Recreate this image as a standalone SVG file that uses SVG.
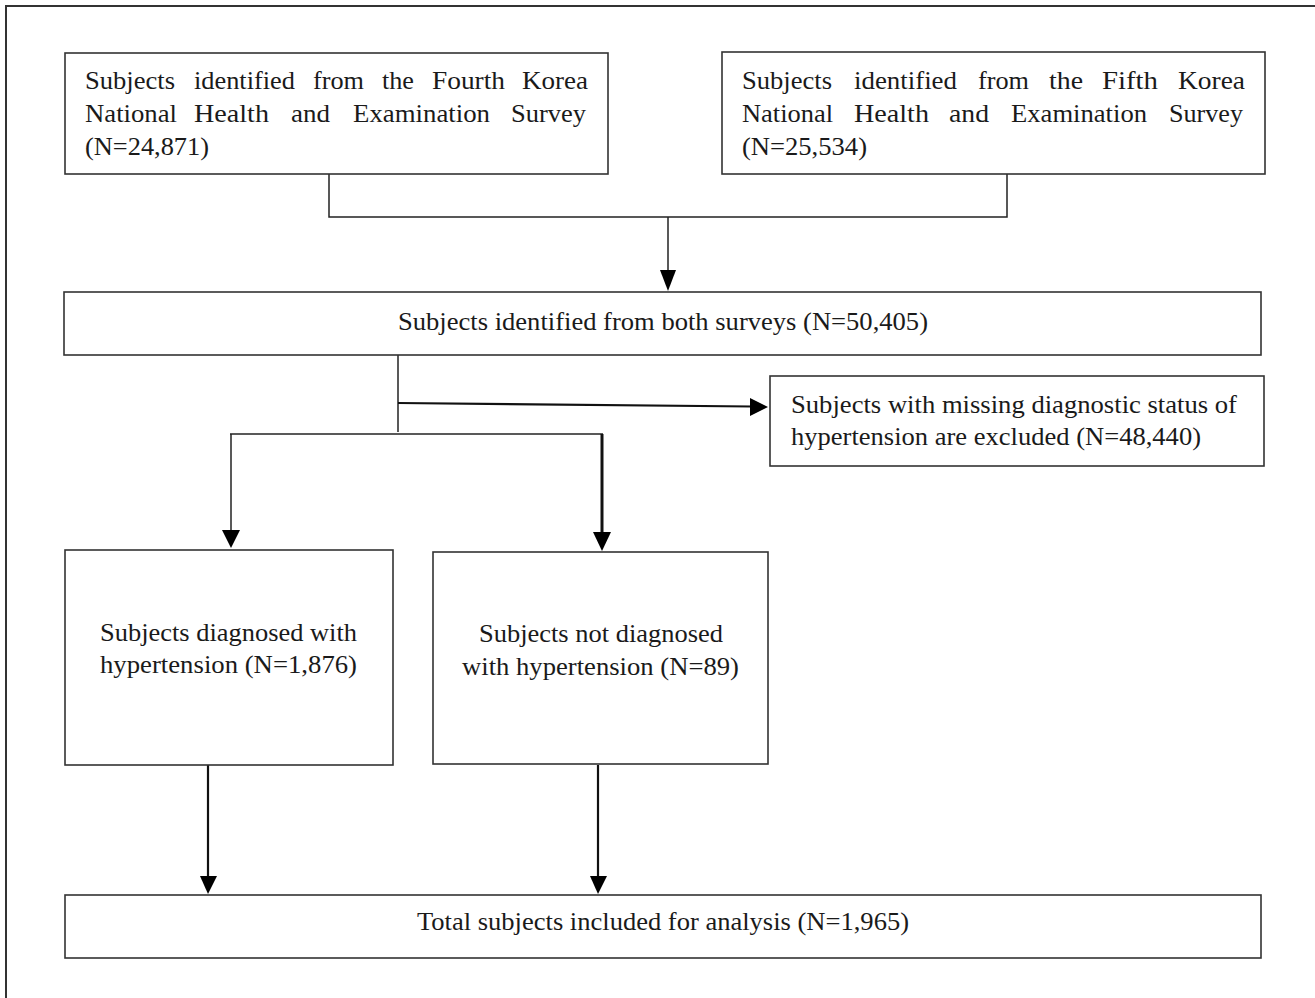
<svg xmlns="http://www.w3.org/2000/svg" width="1315" height="998" viewBox="0 0 1315 998">
<style>
.box{fill:#fff;stroke:#333;stroke-width:1.6}
.ln{fill:none;stroke:#222;stroke-width:1.5}
.lnb{fill:none;stroke:#111;stroke-width:2.2}
.t{font-family:"Liberation Serif","Times New Roman",serif;font-size:26px;fill:#1a1a1a}
</style>
<rect width="1315" height="998" fill="#fff"/>
<rect x="6" y="6" width="1330" height="1010" fill="none" stroke="#333" stroke-width="2"/>

<g id="connectors">
<polyline class="ln" points="329,174 329,217 1007,217 1007,174"/>
<line class="ln" x1="668" y1="217" x2="668" y2="272"/>
<polygon points="660,270 676,270 668,291" fill="#000"/>
<line class="ln" x1="398" y1="355" x2="398" y2="432"/>
<line class="lnb" x1="398" y1="403" x2="752" y2="406.5"/>
<polygon points="750,398 768,407 750,416" fill="#000"/>
<polyline class="ln" points="230,434 603,434"/>
<line class="ln" x1="231" y1="434" x2="231" y2="532"/>
<polygon points="222,530 240,530 231,548" fill="#000"/>
<line class="lnb" x1="602" y1="434" x2="602" y2="535" style="stroke-width:3"/>
<polygon points="593,532 611,532 602,551" fill="#000"/>
<line class="lnb" x1="208" y1="765" x2="208" y2="878"/>
<polygon points="200,876 217,876 208,894" fill="#000"/>
<line class="lnb" x1="598" y1="765" x2="598" y2="878"/>
<polygon points="590,876 607,876 598,894" fill="#000"/>
</g>

<g id="n1">
<rect class="box" x="65" y="53" width="543" height="121"/>
<text class="t" x="85" y="89" textLength="90" lengthAdjust="spacingAndGlyphs">Subjects</text>
<text class="t" x="194" y="89" textLength="101" lengthAdjust="spacingAndGlyphs">identified</text>
<text class="t" x="313" y="89" textLength="51" lengthAdjust="spacingAndGlyphs">from</text>
<text class="t" x="382" y="89" textLength="32" lengthAdjust="spacingAndGlyphs">the</text>
<text class="t" x="432" y="89" textLength="73" lengthAdjust="spacingAndGlyphs">Fourth</text>
<text class="t" x="522" y="89" textLength="66" lengthAdjust="spacingAndGlyphs">Korea</text>
<text class="t" x="85" y="122" textLength="92" lengthAdjust="spacingAndGlyphs">National</text>
<text class="t" x="194" y="122" textLength="75" lengthAdjust="spacingAndGlyphs">Health</text>
<text class="t" x="291" y="122" textLength="39" lengthAdjust="spacingAndGlyphs">and</text>
<text class="t" x="353" y="122" textLength="137" lengthAdjust="spacingAndGlyphs">Examination</text>
<text class="t" x="511" y="122" textLength="75" lengthAdjust="spacingAndGlyphs">Survey</text>
<text class="t" x="85" y="155" textLength="124" lengthAdjust="spacingAndGlyphs">(N=24,871)</text>
</g>

<g id="n2">
<rect class="box" x="722" y="52" width="543" height="122"/>
<text class="t" x="742" y="89" textLength="90" lengthAdjust="spacingAndGlyphs">Subjects</text>
<text class="t" x="854" y="89" textLength="103" lengthAdjust="spacingAndGlyphs">identified</text>
<text class="t" x="978" y="89" textLength="51" lengthAdjust="spacingAndGlyphs">from</text>
<text class="t" x="1049" y="89" textLength="34" lengthAdjust="spacingAndGlyphs">the</text>
<text class="t" x="1102" y="89" textLength="56" lengthAdjust="spacingAndGlyphs">Fifth</text>
<text class="t" x="1178" y="89" textLength="67" lengthAdjust="spacingAndGlyphs">Korea</text>
<text class="t" x="742" y="122" textLength="91" lengthAdjust="spacingAndGlyphs">National</text>
<text class="t" x="854" y="122" textLength="75" lengthAdjust="spacingAndGlyphs">Health</text>
<text class="t" x="949" y="122" textLength="40" lengthAdjust="spacingAndGlyphs">and</text>
<text class="t" x="1011" y="122" textLength="136" lengthAdjust="spacingAndGlyphs">Examination</text>
<text class="t" x="1169" y="122" textLength="74" lengthAdjust="spacingAndGlyphs">Survey</text>
<text class="t" x="742" y="155" textLength="125" lengthAdjust="spacingAndGlyphs">(N=25,534)</text>
</g>

<g id="n3">
<rect class="box" x="64" y="292" width="1197" height="63"/>
<text class="t" x="398" y="330" textLength="530" lengthAdjust="spacingAndGlyphs">Subjects identified from both surveys (N=50,405)</text>
</g>

<g id="n4">
<rect class="box" x="770" y="376" width="494" height="90"/>
<text class="t" x="791" y="413" textLength="446" lengthAdjust="spacingAndGlyphs">Subjects with missing diagnostic status of</text>
<text class="t" x="791" y="445" textLength="410" lengthAdjust="spacingAndGlyphs">hypertension are excluded (N=48,440)</text>
</g>

<g id="n5">
<rect class="box" x="65" y="550" width="328" height="215"/>
<text class="t" x="100" y="641" textLength="257" lengthAdjust="spacingAndGlyphs">Subjects diagnosed with</text>
<text class="t" x="100" y="673" textLength="257" lengthAdjust="spacingAndGlyphs">hypertension (N=1,876)</text>
</g>

<g id="n6">
<rect class="box" x="433" y="552" width="335" height="212"/>
<text class="t" x="479" y="642" textLength="244" lengthAdjust="spacingAndGlyphs">Subjects not diagnosed</text>
<text class="t" x="462" y="675" textLength="277" lengthAdjust="spacingAndGlyphs">with hypertension (N=89)</text>
</g>

<g id="n7">
<rect class="box" x="65" y="895" width="1196" height="63"/>
<text class="t" x="417" y="930" textLength="492" lengthAdjust="spacingAndGlyphs">Total subjects included for analysis (N=1,965)</text>
</g>
</svg>
